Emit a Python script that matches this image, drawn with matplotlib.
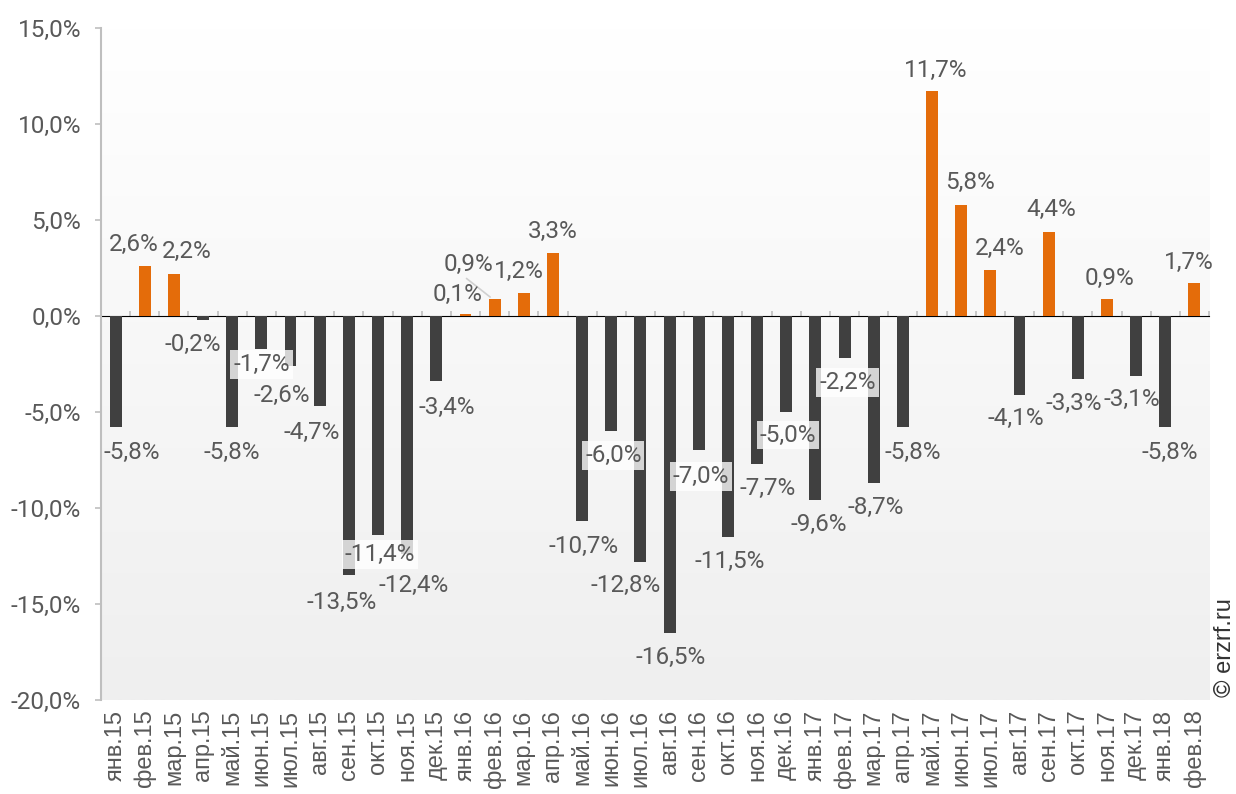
import numpy as np
import matplotlib
matplotlib.use("Agg")
import matplotlib.pyplot as plt
from matplotlib.colors import LinearSegmentedColormap
from matplotlib.ticker import FuncFormatter

# monthly change, %
months = ["янв.15", "фев.15", "мар.15", "апр.15", "май.15", "июн.15", "июл.15", "авг.15",
          "сен.15", "окт.15", "ноя.15", "дек.15", "янв.16", "фев.16", "мар.16", "апр.16",
          "май.16", "июн.16", "июл.16", "авг.16", "сен.16", "окт.16", "ноя.16", "дек.16",
          "янв.17", "фев.17", "мар.17", "апр.17", "май.17", "июн.17", "июл.17", "авг.17",
          "сен.17", "окт.17", "ноя.17", "дек.17", "янв.18", "фев.18"]
change = [-5.8, 2.6, 2.2, -0.2, -5.8, -1.7, -2.6, -4.7,
          -13.5, -11.4, -12.4, -3.4, 0.1, 0.9, 1.2, 3.3,
          -10.7, -6.0, -12.8, -16.5, -7.0, -11.5, -7.7, -5.0,
          -9.6, -2.2, -8.7, -5.8, 11.7, 5.8, 2.4, -4.1,
          4.4, -3.3, 0.9, -3.1, -5.8, 1.7]

# label nudges in pixels from the bar end (dx right, dy down)
nudge = [(16, 25), (-11, -22), (13, -22), (-10, 25), (0, 25), (0, 16), (-9, 30), (-8, 26),
         (-7, 27), (2, 20), (6, 31), (10, 26), (-8, -20), (-26, -34), (-5, -22), (0, -21),
         (1, 25), (2, 24), (-15, 24), (1, 25), (2, 26), (2, 25), (11, 25), (2, 23),
         (3, 24), (3, 24), (2, 24), (10, 25), (4, -21), (9, -22), (9, -21), (-4, 24),
         (3, -22), (-4, 24), (3, -20), (-4, 24), (4, 25), (-6, -21)]
boxed = {5, 9, 17, 20, 23, 25}

GRAY = "#404040"
ORANGE = "#e46c0a"
TXT = "#595959"
AXC = "#bfbfbf"

plt.rcParams["font.family"] = ["Roboto", "DejaVu Sans"]

fig = plt.figure(figsize=(12.36, 7.94), dpi=100)
ax = fig.add_axes([0.0817, 0.1184, 0.8965, 0.8463])

n = len(change)
x = np.arange(n)
ax.set_xlim(-0.5, n - 0.5)
ax.set_ylim(-20, 15)

# soft vertical gradient behind the bars
grad = np.linspace(0, 1, 256).reshape(-1, 1)
bg = LinearSegmentedColormap.from_list("bg", ["#ffffff", "#efefef"])
ax.imshow(grad, cmap=bg, aspect="auto", extent=(-0.5, n - 0.5, -20, 15),
          origin="upper", zorder=0)

colors = [ORANGE if v >= 0 else GRAY for v in change]
ax.bar(x, change, width=0.41, color=colors, zorder=3)

for i, v in enumerate(change):
    dx, dy = nudge[i]
    lbl = f"{v:.1f}%".replace(".", ",")
    kw = {}
    if i in boxed:
        kw["bbox"] = dict(boxstyle="square,pad=0.12", fc="white", ec="none", alpha=0.78)
    ax.annotate(lbl, xy=(i, v), xytext=(dx, -dy), textcoords="offset pixels",
                ha="center", va="center", fontsize=17.5, color=TXT, zorder=5, **kw)

# leader line for the shifted label of фев.16
ax.annotate("", xy=(13 - 0.08, change[13]), xytext=(-28, 22), textcoords="offset pixels",
            arrowprops=dict(arrowstyle="-", color="#d0d0d0", lw=1.2), zorder=4)

# axis styling
for s in ["top", "right", "bottom"]:
    ax.spines[s].set_visible(False)
ax.spines["left"].set_color(AXC)
ax.spines["left"].set_linewidth(1.5)
ax.set_yticks(np.arange(-20, 16, 5))
ax.yaxis.set_major_formatter(FuncFormatter(lambda v, p: f"{v:.1f}%".replace(".", ",")))
ax.tick_params(axis="y", colors=AXC, length=4.3, width=1.2, pad=10, labelcolor=TXT,
               labelsize=17.5)

ax.set_xticks(x)
ax.set_xticklabels(months, rotation=90, family=["Liberation Sans", "DejaVu Sans"],
                   fontsize=17, color=TXT, va="top")
ax.tick_params(axis="x", length=0, pad=7)

# zero line with category boundary ticks
zero = ax.secondary_xaxis(20 / 35)
zero.spines["bottom"].set_color(AXC)
zero.spines["bottom"].set_linewidth(1.8)
zero.set_xticks(np.arange(-0.5, n, 1))
zero.set_xticklabels([])
zero.tick_params(axis="x", colors=AXC, length=3.6, width=1.2, direction="out")

fig.text(0.991, 0.184, "© erzrf.ru", rotation=90, ha="center", va="center",
         fontsize=17, color="#333333", family=["Liberation Sans", "DejaVu Sans"])

fig.savefig("out.png", dpi=100)
